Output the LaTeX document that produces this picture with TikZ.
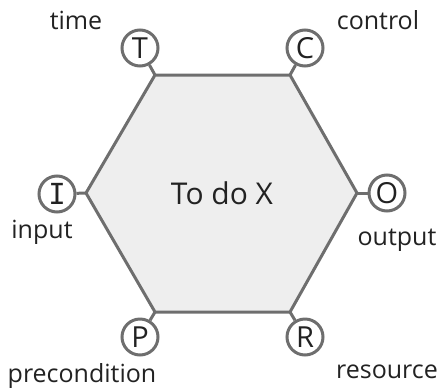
\documentclass[tikz,border=0pt]{standalone}
\usepackage{fontspec}
\setmainfont{Open Sans}
\newfontfamily\serifI{DejaVu Sans Mono}
\definecolor{edge}{HTML}{6E6E6E}
\definecolor{hexfill}{HTML}{EEEEEE}
\definecolor{ink}{HTML}{222222}
\begin{document}
\begin{tikzpicture}[x=1pt,y=-1pt,
  port/.style={circle,draw=edge,line width=3pt,fill=white,minimum size=36pt,inner sep=0pt,text=ink,font=\fontsize{29}{32}\selectfont},
  lab/.style={text=ink,font=\fontsize{25}{28}\selectfont,inner sep=0pt},
  link/.style={draw=edge,line width=3pt}]
\useasboundingbox (0,0) rectangle (438,391);
\coordinate (vtl) at (155,75);
\coordinate (vtr) at (290,75);
\coordinate (vr) at (357,193);
\coordinate (vbr) at (290,312);
\coordinate (vbl) at (155,312);
\coordinate (vl) at (86,193);
\draw[draw=edge,fill=hexfill,line width=3pt,line join=round] (vtl) -- (vtr) -- (vr) -- (vbr) -- (vbl) -- (vl) -- cycle;
\node[text=ink,font=\fontsize{30}{33}\selectfont] (center) at (222,193) {To do X};
\node[port] (T) at (140,48) {T};
\node[port] (C) at (305,48) {C};
\node[port] (I) at (57,194) {\serifI I};
\node[port] (O) at (387,193) {O};
\node[port] (P) at (140,337) {P};
\node[port] (R) at (305,337) {R};
\draw[link] (T) -- (vtl);
\draw[link] (C) -- (vtr);
\draw[link] (I) -- (vl);
\draw[link] (O) -- (vr);
\draw[link] (P) -- (vbl);
\draw[link] (R) -- (vbr);
\node[lab] (lt) at (76,20) {time};
\node[lab] (lc) at (378,20) {control};
\node[lab] (li) at (42,232) {input};
\node[lab] (lo) at (397,240) {output};
\node[lab] (lp) at (82,376) {precondition};
\node[lab] (lr) at (387,372) {resource};
\end{tikzpicture}
\end{document}
